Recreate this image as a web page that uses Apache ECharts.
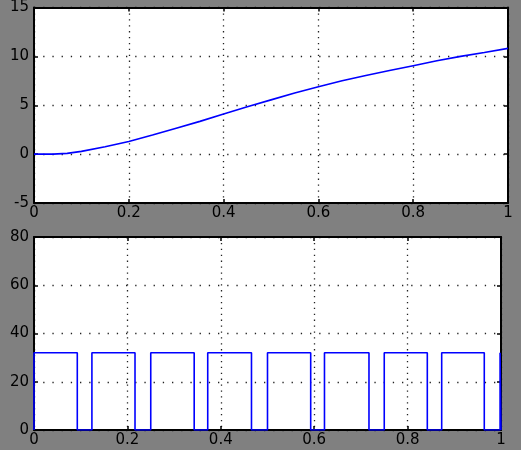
<!DOCTYPE html>
<html>
<head>
<meta charset="utf-8">
<script src="https://cdn.jsdelivr.net/npm/echarts@6/dist/echarts.min.js"></script>
<style>
  html, body { margin: 0; padding: 0; background: #808080; }
  #chart { width: 521px; height: 450px; }
</style>
</head>
<body>
<div id="chart"></div>
<script>
// Upper panel: smooth response curve
const curveX = [0, 0.04, 0.07, 0.1, 0.15, 0.2, 0.25, 0.3, 0.35, 0.4, 0.45, 0.5, 0.55, 0.6, 0.65, 0.7, 0.75, 0.8, 0.85, 0.9, 0.95, 1.0];
const curveY = [0, 0, 0.08, 0.28, 0.75, 1.3, 1.95, 2.65, 3.35, 4.1, 4.85, 5.55, 6.25, 6.9, 7.5, 8.05, 8.55, 9.05, 9.55, 10.0, 10.4, 10.82];

// Lower panel: pulse train (rising and falling edge times, pulse height)
const pulseRise = [0, 0.124, 0.25, 0.372, 0.5, 0.622, 0.75, 0.873, 0.998];
const pulseFall = [0.0927, 0.2163, 0.343, 0.4657, 0.5925, 0.7173, 0.8422, 0.9642, 1.0];
const pulseLevel = 32;

// Axis ranges and tick steps
const xRange = [0, 1], xStep = 0.2;
const topRange = [-5, 15], topStep = 5;
const bottomRange = [0, 80], bottomStep = 20;

function pulsePoints() {
  const pts = [];
  for (let i = 0; i < pulseRise.length; i++) {
    pts.push([pulseRise[i], 0], [pulseRise[i], pulseLevel]);
    pts.push([pulseFall[i], pulseLevel], [pulseFall[i], 0]);
  }
  return pts;
}

const labelFont = { color: '#000', fontFamily: 'DejaVu Sans', fontSize: 15 };
const frame = { show: true, onZero: false, lineStyle: { color: '#000', width: 2 } };
const tickIn = { show: true, inside: true, length: 4, lineStyle: { color: '#000', width: 1.5 } };

function xAxes(g) {
  return [
    { type: 'value', gridIndex: g, position: 'bottom', min: xRange[0], max: xRange[1], interval: xStep,
      axisLine: frame, axisTick: tickIn,
      axisLabel: Object.assign({ margin: 3 }, labelFont),
      splitLine: { show: true, lineStyle: { color: '#222', width: 1.3, type: [1.3, 4.6] } } },
    { type: 'value', gridIndex: g, position: 'top', min: xRange[0], max: xRange[1], interval: xStep,
      axisLine: frame, axisTick: tickIn, axisLabel: { show: false }, splitLine: { show: false } }
  ];
}
function yAxes(g, range, step) {
  return [
    { type: 'value', gridIndex: g, position: 'left', min: range[0], max: range[1], interval: step,
      axisLine: frame, axisTick: tickIn,
      axisLabel: Object.assign({ margin: 5 }, labelFont),
      splitLine: { show: true, lineStyle: { color: '#222', width: 1.3, type: [1.3, 7.9] } } },
    { type: 'value', gridIndex: g, position: 'right', min: range[0], max: range[1], interval: step,
      axisLine: frame, axisTick: tickIn, axisLabel: { show: false }, splitLine: { show: false } }
  ];
}

const chart = echarts.init(document.getElementById('chart'), null, { renderer: 'canvas' });
chart.setOption({
  backgroundColor: '#808080',
  animation: false,
  grid: [
    { left: 34, top: 6, width: 474, height: 197, show: true, backgroundColor: '#fff', borderWidth: 0 },
    { left: 34, top: 237, width: 467, height: 193, show: true, backgroundColor: '#fff', borderWidth: 0 }
  ],
  xAxis: xAxes(0).concat(xAxes(1)),
  yAxis: yAxes(0, topRange, topStep).concat(yAxes(1, bottomRange, bottomStep)),
  series: [
    { type: 'line', xAxisIndex: 0, yAxisIndex: 0, showSymbol: false, smooth: false,
      lineStyle: { color: '#0000ff', width: 1.6 },
      data: curveX.map((x, i) => [x, curveY[i]]) },
    { type: 'line', xAxisIndex: 2, yAxisIndex: 2, showSymbol: false,
      lineStyle: { color: '#0000ff', width: 1.6 },
      data: pulsePoints() }
  ]
});
</script>
</body>
</html>
